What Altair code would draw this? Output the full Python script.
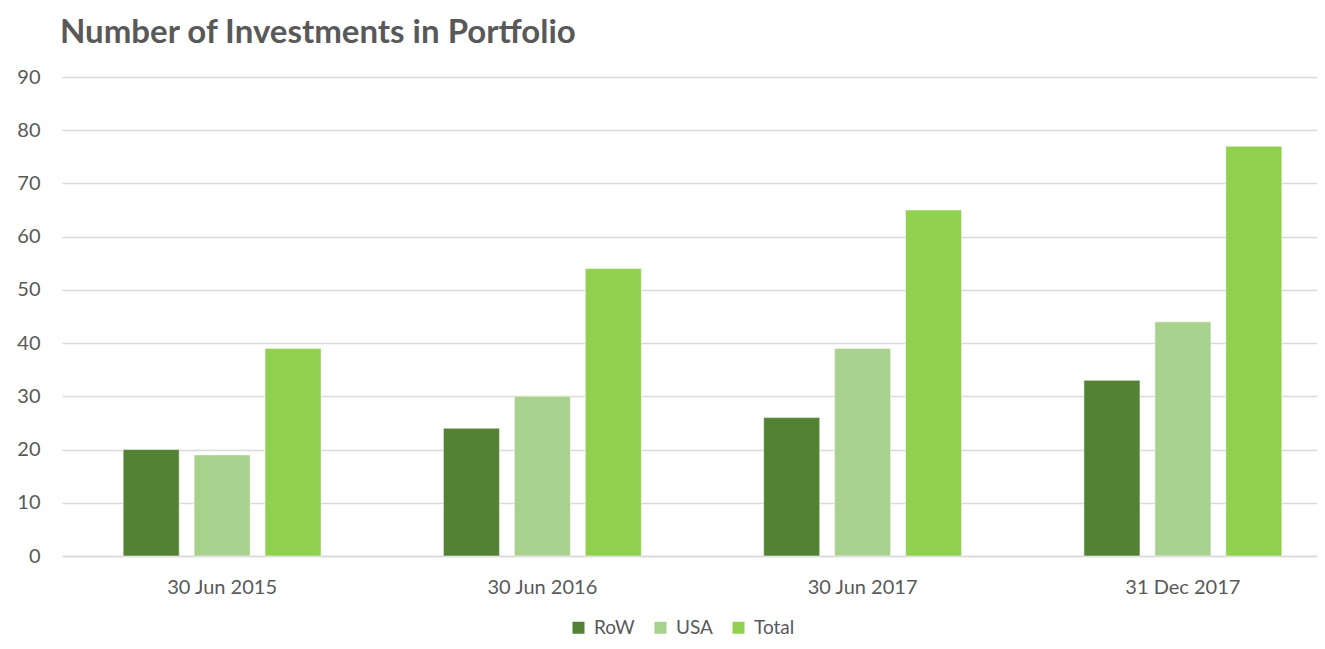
import altair as alt
import pandas as pd

categories = ["30 Jun 2015", "30 Jun 2016", "30 Jun 2017", "31 Dec 2017"]
series = ["RoW", "USA", "Total"]
row_vals = [20, 24, 26, 33]
usa_vals = [19, 30, 39, 44]
total_vals = [39, 54, 65, 77]
colors = ["#548235", "#A9D18E", "#92D050"]

records = []
for i, c in enumerate(categories):
    for s, vals in zip(series, [row_vals, usa_vals, total_vals]):
        records.append({"date": c, "series": s, "value": vals[i]})
df = pd.DataFrame(records)

FONT = "Lato"
TXT = "#595959"

chart = alt.Chart(df).mark_bar(stroke="white", strokeWidth=0.5).encode(
    x=alt.X("date:N", sort=categories, title=None,
            scale=alt.Scale(range=[0, 1281], paddingInner=0.382, paddingOuter=0.191),
            axis=alt.Axis(labelAngle=0, labelFont=FONT, labelFontSize=20, labelColor=TXT,
                          ticks=False, domainColor="#D9D9D9", domainWidth=1.5, labelPadding=21)),
    xOffset=alt.XOffset("series:N", sort=series,
                        scale=alt.Scale(paddingInner=0.21, paddingOuter=0)),
    y=alt.Y("value:Q", title=None,
            scale=alt.Scale(domain=[0, 90], nice=False),
            axis=alt.Axis(values=list(range(0, 91, 10)), labelFont=FONT, labelFontSize=20,
                          labelColor=TXT, ticks=False, domain=False, gridColor="#D9D9D9",
                          gridWidth=1.5, labelPadding=22)),
    color=alt.Color("series:N", sort=series,
                    scale=alt.Scale(domain=series, range=colors),
                    legend=alt.Legend(title=None, orient="none", direction="horizontal",
                                      legendX=507, legendY=541,
                                      symbolType="square", symbolSize=144, symbolStrokeWidth=0,
                                      labelFont=FONT, labelFontSize=19, labelColor=TXT,
                                      columnPadding=16, labelOffset=6)),
).properties(
    width=1255,
    height=479,
    title=alt.Title("Number of Investments in Portfolio", anchor="start", frame="group",
                    font=FONT, fontSize=33, fontWeight="bold", color=TXT, offset=17, dx=-2),
    autosize=alt.AutoSizeParams(type="none"),
    padding={"left": 54, "top": 69, "right": 0, "bottom": 85},
).configure_view(stroke=None)

chart.save("out.html", embed_options={"renderer": "svg", "actions": False})
